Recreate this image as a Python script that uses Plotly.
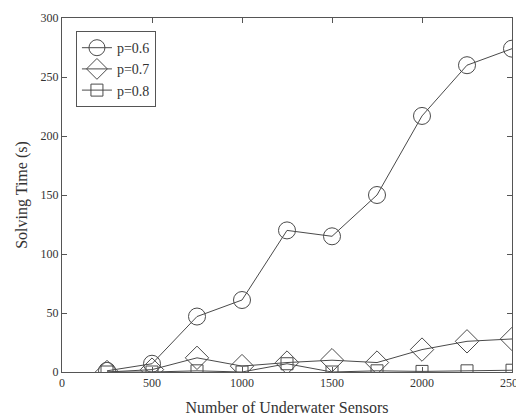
import plotly.graph_objects as go

sensors = [250, 500, 750, 1000, 1250, 1500, 1750, 2000, 2250, 2500]
p06 = [1, 7, 47, 61, 120, 115, 150, 217, 260, 274]
p07 = [0, 2, 12, 5, 8, 10, 8, 19, 26, 28]
p08 = [0, 0, 1, 0, 7, 0, 1, 0.5, 1, 1.5]

series = [("p=0.6", p06, "circle-open", 17), ("p=0.7", p07, "diamond-open", 18), ("p=0.8", p08, "square-open", 12)]
col = "#4a4a4a"
fig = go.Figure()
for name, ys, sym, sz in series:
    fig.add_trace(go.Scatter(x=sensors, y=ys, name=name, mode="lines+markers",
                             line=dict(color=col, width=1),
                             marker=dict(symbol=sym, size=sz, color=col, line=dict(color=col, width=1))))

font = dict(family="Liberation Serif, Times New Roman, serif", color="#333333")
# page body has an 8px default margin; compensate so the plot lands where the reference has it
fig.update_layout(
    width=516, height=411,
    margin=dict(l=54, r=12, t=10, b=47, autoexpand=False),
    paper_bgcolor="white", plot_bgcolor="white",
    font=dict(**font, size=12),
    showlegend=True,
    legend=dict(x=0.031, y=0.963, xanchor="left", yanchor="top",
                bordercolor="#555555", borderwidth=1, bgcolor="white",
                font=dict(**font, size=14), tracegroupgap=0, itemwidth=30),
)
fig.update_xaxes(range=[0, 2500], tickvals=[0, 500, 1000, 1500, 2000, 2500], automargin=False,
                 ticks="inside", ticklen=5, tickcolor="#555", mirror="ticks",
                 showline=True, linecolor="#555", linewidth=1, showgrid=False, zeroline=False,
                 tickfont=dict(**font, size=12),
                 title=dict(text="Number of Underwater Sensors", font=dict(**font, size=16), standoff=12))
fig.update_yaxes(range=[0, 300], tickvals=[0, 50, 100, 150, 200, 250, 300], automargin=False,
                 ticks="inside", ticklen=5, tickcolor="#555", mirror="ticks",
                 showline=True, linecolor="#555", linewidth=1, showgrid=False, zeroline=False,
                 tickfont=dict(**font, size=12),
                 title=dict(text="Solving Time (s)", font=dict(**font, size=16), standoff=8))
fig.write_html("out.html")
